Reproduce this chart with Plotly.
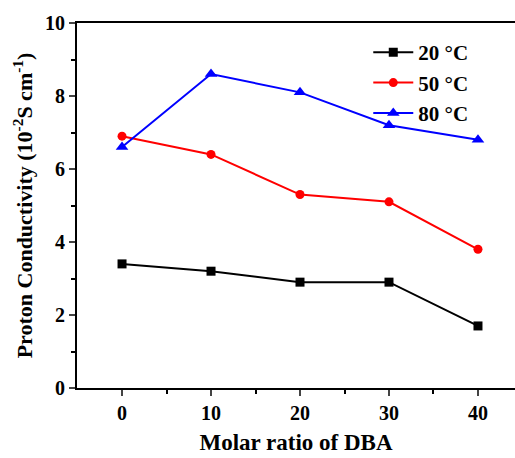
import plotly.graph_objects as go

x_vals = [0, 10, 20, 30, 40]
s20 = [3.4, 3.2, 2.9, 2.9, 1.7]
s50 = [6.9, 6.4, 5.3, 5.1, 3.8]
s80 = [6.6, 8.6, 8.1, 7.2, 6.8]
names = ["20 °C", "50 °C", "80 °C"]
colors = ["black", "#ff0000", "#0000ff"]
symbols = ["square", "circle", "triangle-up"]
sizes = [9, 9, 11]

fig = go.Figure()
for ys, n, c, s, sz in zip([s20, s50, s80], names, colors, symbols, sizes):
    fig.add_trace(go.Scatter(x=x_vals, y=ys, name=n, mode="lines+markers",
                             line=dict(color=c, width=2),
                             marker=dict(symbol=s, size=sz, color=c)))

serif = "Liberation Serif"
fig.update_layout(
    width=515, height=458,
    margin=dict(l=77, r=0, t=23, b=70),
    plot_bgcolor="white", paper_bgcolor="white",
    font=dict(family=serif, size=20, color="black"),
    showlegend=True,
    legend=dict(x=0.665, y=0.975, xanchor="left", yanchor="top",
                font=dict(family=serif, size=21, color="black", weight="bold"),
                bgcolor="rgba(0,0,0,0)", itemwidth=40, tracegroupgap=0),
)
fig.update_xaxes(range=[-5.06, 44.16], tickvals=x_vals, ticks="outside", ticklen=6, tickwidth=2,
                 showline=True, linewidth=2, linecolor="black", mirror=True, showgrid=False, zeroline=False,
                 tickfont=dict(family=serif, size=20, color="black", weight="bold"),
                 minor=dict(tickvals=[5, 15, 25, 35], ticks="outside", ticklen=4, tickwidth=2, tickcolor="black"),
                 title=dict(text="Molar ratio of DBA", standoff=11,
                            font=dict(family=serif, size=23, color="black", weight="bold")))
fig.update_yaxes(range=[0, 10], tickvals=[0, 2, 4, 6, 8, 10], ticks="outside", ticklen=6, tickwidth=2,
                 showline=True, linewidth=2, linecolor="black", mirror=False, showgrid=False, zeroline=False,
                 tickfont=dict(family=serif, size=20, color="black", weight="bold"),
                 minor=dict(tickvals=[1, 3, 5, 7, 9], ticks="outside", ticklen=4, tickwidth=2, tickcolor="black"),
                 title=dict(text="Proton Conductivity (10<sup>-2</sup>S cm<sup>-1</sup>)", standoff=6,
                            font=dict(family=serif, size=22, color="black", weight="bold")))
fig.write_html("out.html")
